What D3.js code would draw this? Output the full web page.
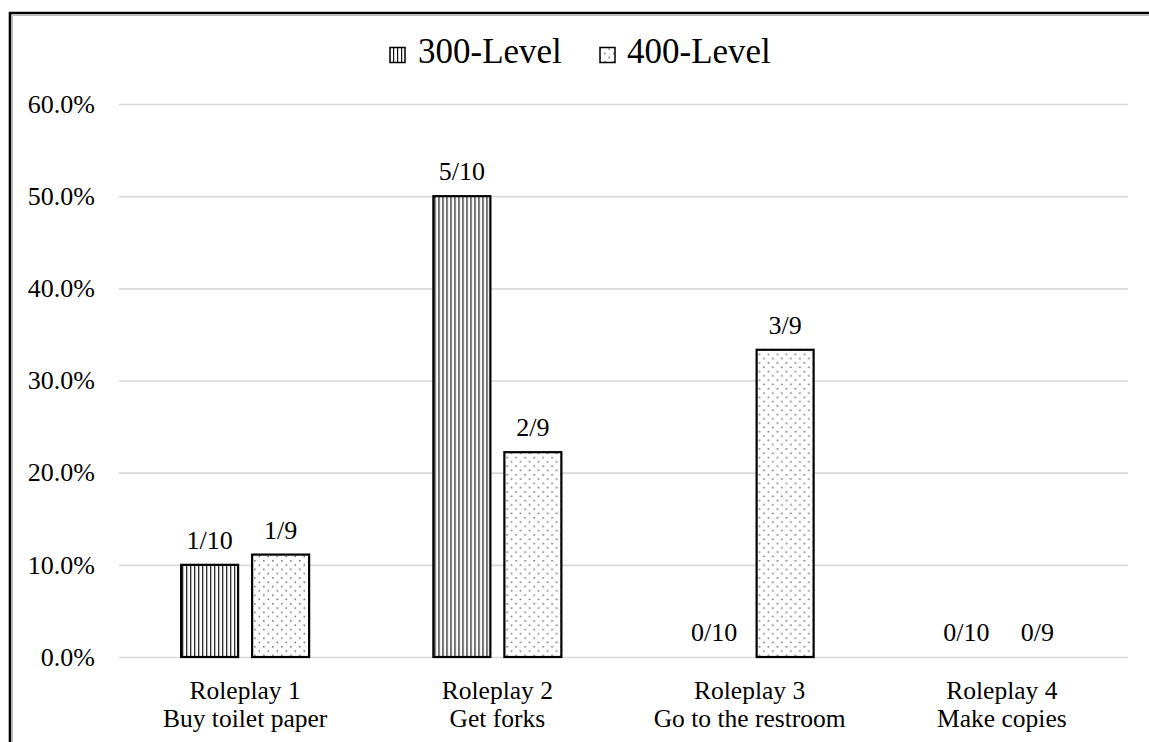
<!DOCTYPE html>
<html>
<head>
<meta charset="utf-8">
<script src="https://cdn.jsdelivr.net/npm/d3@7"></script>
<style>
  html, body { margin: 0; padding: 0; background: #fff; }
  svg text { font-family: 'Liberation Serif', 'Times New Roman', Tinos, Times, serif; }
</style>
</head>
<body>
<svg id="chart" width="1149" height="742" style="display:block"></svg>
<script>
// Share of students who completed each roleplay task
const categories = ["Roleplay 1", "Roleplay 2", "Roleplay 3", "Roleplay 4"];
const tasks = ["Buy toilet paper", "Get forks", "Go to the restroom", "Make copies"];
const seriesNames = ["300-Level", "400-Level"];
const level300 = [1 / 10, 5 / 10, 0 / 10, 0 / 10];
const level400 = [1 / 9, 2 / 9, 3 / 9, 0 / 9];
const labels300 = ["1/10", "5/10", "0/10", "0/10"];
const labels400 = ["1/9", "2/9", "3/9", "0/9"];
const yTicks = [0, 0.1, 0.2, 0.3, 0.4, 0.5, 0.6];

const FONT = "'Liberation Serif', 'Times New Roman', Tinos, Times, serif";
const svg = d3.select("#chart");
const W = 1149, H = 742;
const plot = { left: 119, right: 1128, top: 104, bottom: 657 };

// Fill patterns: vertical stripes and staggered dots
const defs = svg.append("defs");
const stripes = defs.append("pattern")
  .attr("id", "stripes").attr("patternUnits", "userSpaceOnUse")
  .attr("width", 4).attr("height", 4);
stripes.append("rect").attr("width", 4).attr("height", 4).attr("fill", "#fff");
stripes.append("rect").attr("x", 1).attr("width", 1.2).attr("height", 4).attr("fill", "#111");

const dots = defs.append("pattern")
  .attr("id", "dots").attr("patternUnits", "userSpaceOnUse")
  .attr("width", 9).attr("height", 8.6);
dots.append("rect").attr("width", 9).attr("height", 8.6).attr("fill", "#fff");
dots.append("rect").attr("x", 1).attr("y", 1).attr("width", 1.5).attr("height", 1.5).attr("fill", "#666");
dots.append("rect").attr("x", 5.5).attr("y", 5.3).attr("width", 1.5).attr("height", 1.5).attr("fill", "#666");

const fills = ["url(#stripes)", "url(#dots)"];

// Outer frame (runs off the right and bottom edges)
svg.append("path")
  .attr("d", `M10,${H + 5} V13 H${W + 5}`)
  .attr("fill", "none").attr("stroke", "#000").attr("stroke-width", 2.6);
svg.append("path")
  .attr("d", `M12.5,${H + 5} V15.5 H${W + 5}`)
  .attr("fill", "none").attr("stroke", "#bbb").attr("stroke-width", 1);

const y = d3.scaleLinear().domain([0, 0.6]).range([plot.bottom, plot.top]);
const x0 = d3.scaleBand().domain(categories).range([plot.left, plot.right]).padding(0);
const groupW = 128;
const x1 = d3.scaleBand().domain(seriesNames).range([0, groupW]).paddingInner(14 / 71);

// Gridlines and y-axis labels
const yAxis = d3.axisLeft(y).tickValues(yTicks)
  .tickFormat(d3.format(".1%"))
  .tickSize(-(plot.right - plot.left)).tickPadding(24);
const gy = svg.append("g").attr("transform", `translate(${plot.left},0)`).call(yAxis)
  .attr("font-family", FONT);
gy.select(".domain").remove();
gy.selectAll(".tick line").attr("stroke", "#d9d9d9").attr("stroke-width", 1.6);
gy.selectAll(".tick text")
  .attr("font-size", 26).attr("fill", "#000")
  .attr("font-family", FONT);

// Bars
const rows = categories.map((c, i) => ({
  cat: c,
  vals: [
    { s: seriesNames[0], v: level300[i], lab: labels300[i], k: 0 },
    { s: seriesNames[1], v: level400[i], lab: labels400[i], k: 1 }
  ]
}));

const groups = svg.append("g").selectAll("g").data(rows).join("g")
  .attr("transform", d => `translate(${x0(d.cat) + x0.bandwidth() / 2 - groupW / 2},0)`);

groups.selectAll("rect").data(d => d.vals.filter(v => v.v > 0)).join("rect")
  .attr("x", d => x1(d.s))
  .attr("y", d => y(d.v))
  .attr("width", x1.bandwidth())
  .attr("height", d => y(0) - y(d.v))
  .attr("fill", d => fills[d.k])
  .attr("stroke", "#000").attr("stroke-width", 2.2);

// Value labels above the bars
groups.selectAll("text.val").data(d => d.vals).join("text")
  .attr("class", "val")
  .attr("x", d => x1(d.s) + x1.bandwidth() / 2)
  .attr("y", d => y(d.v) - 16)
  .attr("text-anchor", "middle")
  .attr("font-family", FONT)
  .attr("font-size", 26)
  .text(d => d.lab);

// Category labels (two lines)
const xl = svg.append("g").selectAll("text").data(categories).join("text")
  .attr("x", d => x0(d) + x0.bandwidth() / 2)
  .attr("text-anchor", "middle")
  .attr("font-family", FONT)
  .attr("font-size", 25.5);
xl.append("tspan").attr("x", d => x0(d) + x0.bandwidth() / 2).attr("y", 699).text(d => d);
xl.append("tspan").attr("x", d => x0(d) + x0.bandwidth() / 2).attr("y", 727).text((d, i) => tasks[i]);

// Legend
const legend = svg.append("g");
const legendItems = [
  { name: seriesNames[0], fill: fills[0], x: 390, tx: 418 },
  { name: seriesNames[1], fill: fills[1], x: 600, tx: 627 }
];
legendItems.forEach(it => {
  legend.append("rect")
    .attr("x", it.x).attr("y", 47.5).attr("width", 15).attr("height", 15)
    .attr("fill", it.fill).attr("stroke", "#000").attr("stroke-width", 1.5);
  legend.append("text")
    .attr("x", it.tx).attr("y", 63)
    .attr("font-family", FONT)
    .attr("font-size", 35)
    .text(it.name);
});
</script>
</body>
</html>
